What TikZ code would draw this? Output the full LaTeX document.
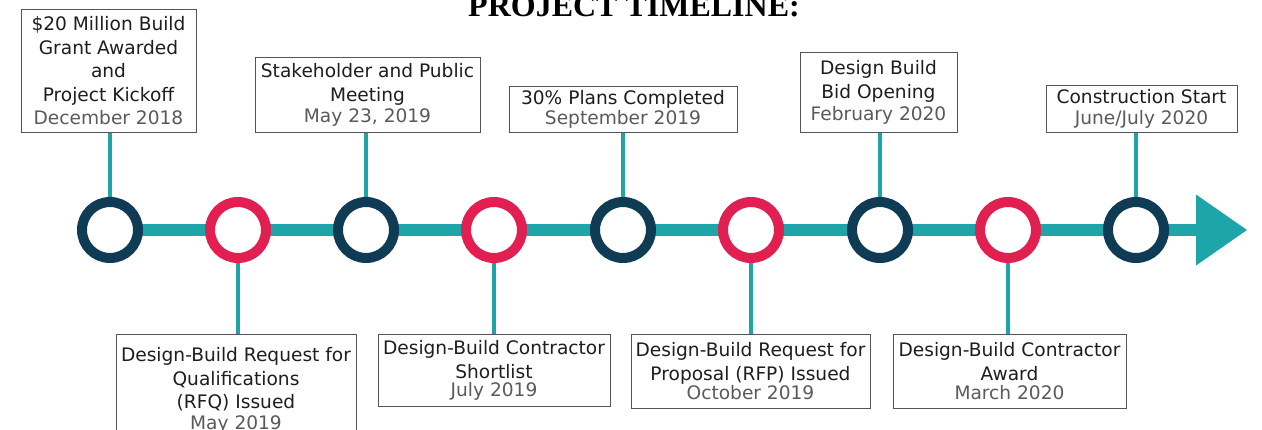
\documentclass[tikz,border=0pt]{standalone}
\usepackage{fontspec}
\setmainfont{DejaVu Sans}
\newfontfamily\titlefont{Liberation Serif}
\usetikzlibrary{math,backgrounds}

\definecolor{tlteal}{HTML}{1EA5AA}
\definecolor{tlnavy}{HTML}{0F3B55}
\definecolor{tlpink}{HTML}{E11F50}
\definecolor{boxgray}{HTML}{555555}
\definecolor{dategray}{HTML}{5A5A5A}
\definecolor{textdark}{HTML}{1E1E1E}
\newcommand{\when}[1]{\textcolor{dategray}{#1}}

\begin{document}
\begin{tikzpicture}[x=1pt,y=1pt,
    ring/.style={circle, draw=#1, line width=10pt, fill=white, minimum size=56pt, inner sep=0pt},
    card/.style={draw=boxgray, line width=1pt, fill=white, align=center, inner sep=0pt,
      text=textdark, font=\fontsize{18.6}{23.5}\selectfont},
    stem/.style={draw=tlteal, line width=3.5pt}]
            \tikzmath{\ly = -230; \ty = -133; \by = -334;}
            \useasboundingbox (0,0) rectangle (1262,-429);
            \node[anchor=base, font=\titlefont\bfseries\fontsize{32}{32}\selectfont] (T) at (634,-16) {PROJECT TIMELINE:};

            \node[ring=tlnavy] (R1) at (110,\ly) {};
            \node[ring=tlpink] (R2) at (238,\ly) {};
            \node[ring=tlnavy] (R3) at (366,\ly) {};
            \node[ring=tlpink] (R4) at (494,\ly) {};
            \node[ring=tlnavy] (R5) at (623,\ly) {};
            \node[ring=tlpink] (R6) at (751,\ly) {};
            \node[ring=tlnavy] (R7) at (880,\ly) {};
            \node[ring=tlpink] (R8) at (1008,\ly) {};
            \node[ring=tlnavy] (R9) at (1136,\ly) {};
            \coordinate (H) at (1196,\ly);

            \begin{scope}[on background layer]
                \draw[tlteal, line width=12pt] (R1.center) -- (H);
            \end{scope}
            \fill[tlteal] (H) ++(0,35.5) -- ++(51,-35.5) -- ++(-51,-35.5) -- cycle;

            % above the line
            \node[card, anchor=south, minimum width=175pt, minimum height=123pt] (B1) at (108.5,\ty)
                {\$20 Million Build\\Grant Awarded\\and\\Project Kickoff\\\when{December 2018}};
            \node[card, anchor=south, minimum width=225pt, minimum height=75pt] (B3) at (367.5,\ty)
                {Stakeholder and Public\\Meeting\\[-2pt]\when{May 23, 2019}};
            \node[card, anchor=south, minimum width=228pt, minimum height=46pt] (B5) at (623,\ty)
                {30\% Plans Completed\\[-3pt]\when{September 2019}};
            \node[card, anchor=south, minimum width=157pt, minimum height=80pt] (B7) at (878.5,\ty)
                {Design Build\\Bid Opening\\[-1pt]\when{February 2020}};
            \node[card, anchor=south, minimum width=191pt, minimum height=47pt] (B9) at (1141.5,\ty)
                {Construction Start\\[-3pt]\when{June/July 2020}};

            % below the line
            \node[card, anchor=north, minimum width=240pt, minimum height=112pt] (B2) at (236,\by)
                {Design-Build Request for\\Qualifications\\(RFQ) Issued\\[-3pt]\when{May 2019}};
            \node[card, anchor=north, minimum width=232pt, minimum height=72pt] (B4) at (494,\by)
                {Design-Build Contractor\\Shortlist\\[-5pt]\when{July 2019}};
            \node[card, anchor=north, minimum width=239pt, minimum height=74pt] (B6) at (750.5,\by)
                {Design-Build Request for\\Proposal (RFP) Issued\\[-4pt]\when{October 2019}};
            \node[card, anchor=north, minimum width=233pt, minimum height=74pt] (B8) at (1009.5,\by)
                {Design-Build Contractor\\Award\\[-4pt]\when{March 2020}};

            \draw[stem] (B1.south -| R1) -- (R1.north);
            \draw[stem] (B3.south -| R3) -- (R3.north);
            \draw[stem] (B5.south -| R5) -- (R5.north);
            \draw[stem] (B7.south -| R7) -- (R7.north);
            \draw[stem] (B9.south -| R9) -- (R9.north);
            \draw[stem] (R2.south) -- (B2.north -| R2);
            \draw[stem] (R4.south) -- (B4.north);
            \draw[stem] (R6.south) -- (B6.north -| R6);
            \draw[stem] (R8.south) -- (B8.north -| R8);
        \end{tikzpicture}
\end{document}
